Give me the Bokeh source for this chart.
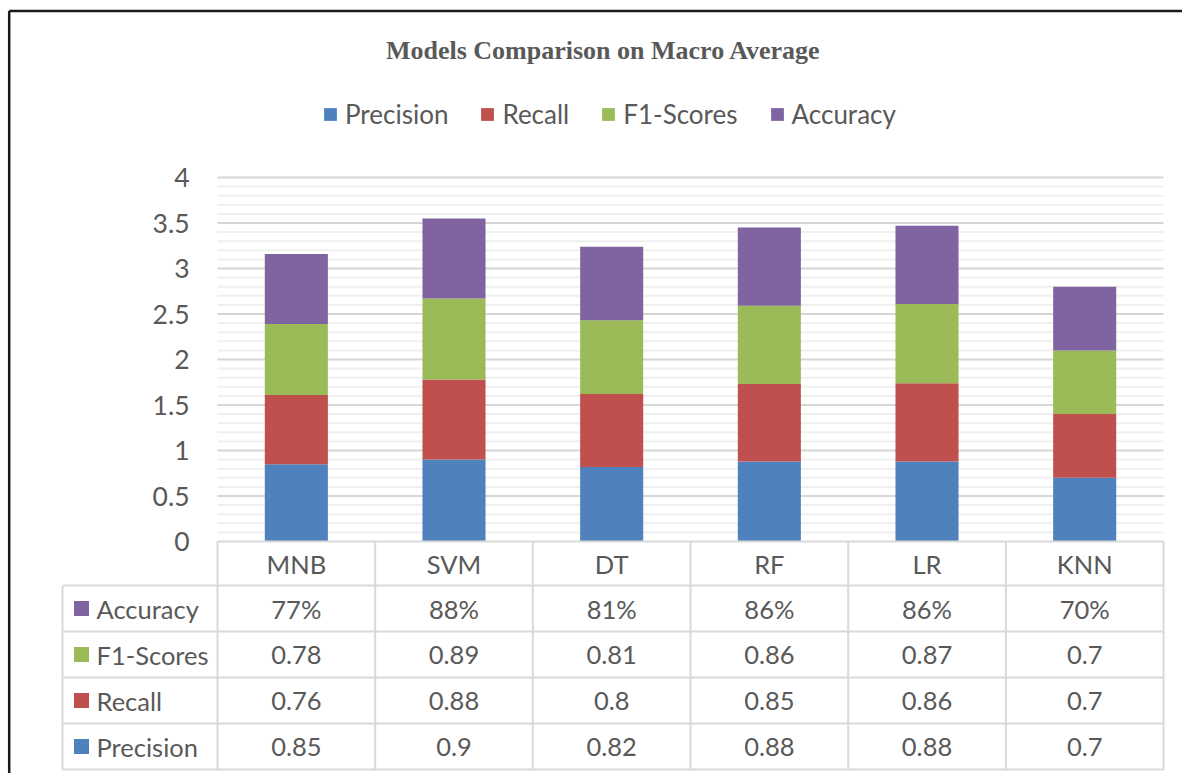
from bokeh.plotting import figure
from bokeh.models import Range1d, Legend, LegendItem, ColumnDataSource
from bokeh.core.properties import value
from bokeh.embed import file_html
from bokeh.resources import INLINE

# ---------------- data ----------------
models = ["MNB", "SVM", "DT", "RF", "LR", "KNN"]
precision = [0.85, 0.9, 0.82, 0.88, 0.88, 0.7]
recall = [0.76, 0.88, 0.8, 0.85, 0.86, 0.7]
f1_scores = [0.78, 0.89, 0.81, 0.86, 0.87, 0.7]
accuracy = [0.77, 0.88, 0.81, 0.86, 0.86, 0.70]
series_names = ["Precision", "Recall", "F1-Scores", "Accuracy"]
y_ticks = [0, 0.5, 1, 1.5, 2, 2.5, 3, 3.5, 4]
y_tick_labels = ["0", "0.5", "1", "1.5", "2", "2.5", "3", "3.5", "4"]
title_text = "Models Comparison on Macro Average"

# ---------------- styles ----------------
colors = ["#4F81BD", "#C0504D", "#9BBB59", "#8064A2"]
TXT = "#595959"
FONT = "Lato"
W, H = 1182, 773
PXX, PXY = 157.67, 91.0           # pixels per data unit
x_start = -0.5 - 217 / PXX
x_end = x_start + W / PXX
y_end = 4 + 177 / PXY
y_start = y_end - H / PXY

p = figure(width=W, height=H, output_backend="svg", toolbar_location=None,
           x_range=Range1d(x_start, x_end), y_range=Range1d(y_start, y_end),
           x_axis_location=None, y_axis_location=None, min_border=0,
           background_fill_color="white", border_fill_color="white")
p.grid.visible = False
p.outline_line_color = None

n = len(models)
xs = list(range(n))
xl, xr = -0.5, n - 0.5

# ---------------- outer frame (left and top edges, as in the source image) ----
bx = x_start + 8.7 / PXX
by = y_end - 10.5 / PXY
p.segment(x0=[bx, bx], x1=[bx, x_end], y0=[y_start, by], y1=[by, by],
          line_color="#1a1a1a", line_width=2.5)

# ---------------- gridlines ----------------
minor = [i / 10 for i in range(1, 41) if i % 5 != 0]
major = [t for t in y_ticks if t > 0]
p.segment(x0=[xl] * len(minor), x1=[xr] * len(minor), y0=minor, y1=minor,
          line_color="#efefef", line_width=2)
p.segment(x0=[xl] * len(major), x1=[xr] * len(major), y0=major, y1=major,
          line_color="#d6d6d6", line_width=2)

# ---------------- bars ----------------
src = ColumnDataSource(dict(x=xs, Precision=precision, Recall=recall,
                            F1=f1_scores, Accuracy=accuracy))
rends = p.vbar_stack(["Precision", "Recall", "F1", "Accuracy"], x="x", width=0.4,
                     color=colors, line_color=None, source=src)

legend = Legend(items=[LegendItem(label=nm, renderers=[r]) for nm, r in zip(series_names, rends)],
                orientation="horizontal", location=(322, 643),
                label_text_font=FONT, label_text_font_size="26px", label_text_color=TXT,
                glyph_width=16, glyph_height=16, label_standoff=7, spacing=31,
                padding=0, margin=0, border_line_color=None, background_fill_alpha=0)
p.add_layout(legend, "center")

# ---------------- title ----------------
p.text(x=[xl], y=[y_end], text=[title_text], x_offset=603 - 217, y_offset=50,
       text_align="center", text_baseline="middle", text_font=value("Liberation Serif"),
       text_font_style="bold", text_font_size="26px", text_color=TXT)

# ---------------- y tick labels ----------------
p.text(x=[xl] * len(y_ticks), y=y_ticks, text=y_tick_labels, x_offset=-28,
       text_align="right", text_baseline="middle", text_font=value(FONT),
       text_font_size="26.5px", text_color=TXT)

# ---------------- data table ----------------
hdr_h = 44 / PXY
row_h = 46 / PXY
bounds = [0, -hdr_h] + [-hdr_h - row_h * (k + 1) for k in range(4)]
lab_left = -0.5 - 155 / PXX

# horizontal lines
hx0 = [xl] + [lab_left] * 5
hx1 = [xr] * 6
p.segment(x0=hx0, x1=hx1, y0=bounds, y1=bounds, line_color="#d9d9d9", line_width=2)
# vertical lines
vx = [lab_left] + [xl + k for k in range(n + 1)]
vy0 = [bounds[1]] + [0] * (n + 1)
vy1 = [bounds[-1]] * (n + 2)
p.segment(x0=vx, x1=vx, y0=vy0, y1=vy1, line_color="#d9d9d9", line_width=2)

TFS = "25.5px"
# header
p.text(x=xs, y=[(bounds[0] + bounds[1]) / 2] * n, text=models, text_align="center",
       text_baseline="middle", text_font=value(FONT), text_font_size=TFS, text_color=TXT)

rows = [("Accuracy", [f"{round(v * 100)}%" for v in accuracy], colors[3]),
        ("F1-Scores", [f"{v:g}" for v in f1_scores], colors[2]),
        ("Recall", [f"{v:g}" for v in recall], colors[1]),
        ("Precision", [f"{v:g}" for v in precision], colors[0])]
for k, (name, vals, col) in enumerate(rows):
    yc = (bounds[k + 1] + bounds[k + 2]) / 2
    p.text(x=xs, y=[yc] * n, text=vals, text_align="center", text_baseline="middle",
           text_font=value(FONT), text_font_size=TFS, text_color=TXT)
    p.rect(x=[lab_left + 19 / PXX], y=[yc], width=15 / PXX, height=15 / PXY,
           fill_color=col, line_color=None)
    p.text(x=[lab_left], y=[yc], text=[name], x_offset=34, text_align="left",
           text_baseline="middle", text_font=value(FONT), text_font_size=TFS,
           text_color=TXT)

open("out.html", "w").write(file_html(p, INLINE))
